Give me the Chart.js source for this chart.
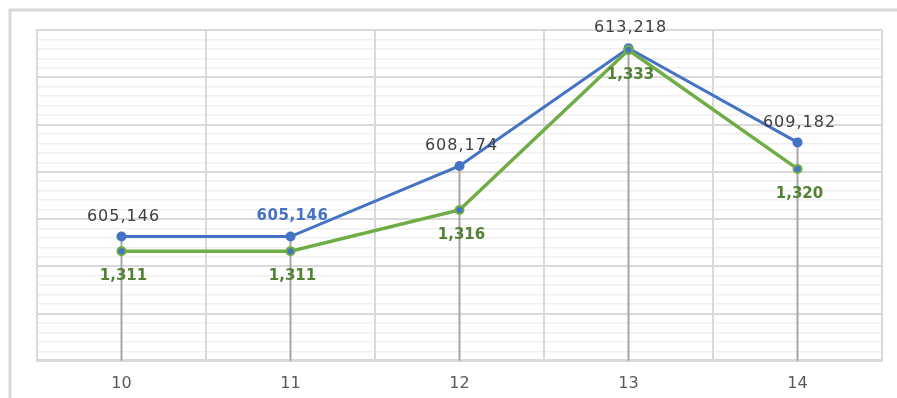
<!DOCTYPE html>
<html>
<head>
<meta charset="utf-8">
<script src="https://cdn.jsdelivr.net/npm/chart.js@4"></script>
<style>
  html, body { margin: 0; padding: 0; background: #fff; }
  #wrap { width: 897px; height: 398px; }
</style>
</head>
<body>
<div id="wrap"><canvas id="myChart" width="897" height="398"></canvas></div>
<script>
// chart data
const categories = ['10', '11', '12', '13', '14'];
const blueValues = [605146, 605146, 608174, 613218, 609182];
const greenValues = [1311, 1311, 1315.5, 1333, 1320];

const fmt = v => Math.round(v).toLocaleString('en-US');

// outer frame of the chart
const framePlugin = {
  id: 'frame',
  beforeDraw(chart) {
    const ctx = chart.ctx;
    ctx.save();
    ctx.strokeStyle = '#d9d9d9';
    ctx.lineWidth = 3;
    ctx.beginPath();
    ctx.moveTo(10, chart.height);
    ctx.lineTo(10, 10);
    ctx.lineTo(chart.width, 10);
    ctx.stroke();
    ctx.restore();
  }
};

// category boundary lines + grey drop lines from each point to the axis
const dropLines = {
  id: 'dropLines',
  beforeDatasetsDraw(chart) {
    const ctx = chart.ctx;
    const area = chart.chartArea;
    const step = (area.right - area.left) / categories.length;
    ctx.save();
    ctx.strokeStyle = '#d9d9d9';
    ctx.lineWidth = 2;
    for (let i = 1; i <= categories.length; i++) {
      const x = area.left + step * i;
      ctx.beginPath();
      ctx.moveTo(x, area.top);
      ctx.lineTo(x, area.bottom);
      ctx.stroke();
    }
    const blue = chart.getDatasetMeta(0).data;
    const green = chart.getDatasetMeta(1).data;
    ctx.strokeStyle = '#a6a6a6';
    blue.forEach((pt, i) => {
      const top = Math.min(pt.y, green[i].y);
      ctx.beginPath();
      ctx.moveTo(pt.x, top);
      ctx.lineTo(pt.x, area.bottom);
      ctx.stroke();
    });
    ctx.restore();
  }
};

// value labels
const valueLabels = {
  id: 'valueLabels',
  afterDatasetsDraw(chart) {
    const ctx = chart.ctx;
    ctx.save();
    ctx.textAlign = 'center';
    ctx.textBaseline = 'middle';
    chart.getDatasetMeta(0).data.forEach((pt, i) => {
      if (i === 1) {
        ctx.font = 'bold 15px "DejaVu Sans"';
        ctx.fillStyle = '#4472c4';
        ctx.letterSpacing = '0.5px';
      } else {
        ctx.font = '16px "DejaVu Sans"';
        ctx.fillStyle = '#404040';
        ctx.letterSpacing = '1px';
      }
      ctx.fillText(fmt(blueValues[i]), pt.x + 2, pt.y - 20);
    });
    ctx.font = 'bold 15px "DejaVu Sans"';
    ctx.fillStyle = '#548235';
    ctx.letterSpacing = '0px';
    chart.getDatasetMeta(1).data.forEach((pt, i) => {
      ctx.fillText(fmt(greenValues[i]), pt.x + 2, pt.y + 25);
    });
    ctx.restore();
  }
};

const ctx = document.getElementById('myChart').getContext('2d');
new Chart(ctx, {
  type: 'line',
  data: {
    labels: categories,
    datasets: [{
      label: 'Blue',
      data: blueValues,
      yAxisID: 'y',
      borderColor: '#4472c4',
      backgroundColor: '#4472c4',
      borderWidth: 3,
      pointRadius: 5,
      pointBorderWidth: 0,
      pointBackgroundColor: '#4472c4',
      tension: 0,
      order: 1
    }, {
      label: 'Green',
      data: greenValues,
      yAxisID: 'y2',
      borderColor: '#70ad47',
      backgroundColor: '#4472c4',
      borderWidth: 3.5,
      pointRadius: 4,
      pointBorderWidth: 2,
      pointBorderColor: '#70ad47',
      pointBackgroundColor: '#4472c4',
      tension: 0,
      order: 0
    }]
  },
  options: {
    responsive: false,
    animation: false,
    layout: { padding: { left: 37, right: 15, top: 30, bottom: 0 } },
    plugins: {
      legend: { display: false },
      tooltip: { enabled: false }
    },
    scales: {
      x: {
        offset: true,
        grid: { display: false },
        border: { color: '#d9d9d9', width: 3 },
        ticks: { color: '#595959', padding: 5, font: { family: 'DejaVu Sans', size: 16 } }
      },
      yg: {
        position: 'left',
        min: 0,
        max: 35,
        ticks: { display: false, stepSize: 1 },
        grid: {
          drawTicks: false,
          color: c => (c.tick.value % 5 === 0 ? '#d9d9d9' : '#f0f0f0'),
          lineWidth: c => (c.tick.value % 5 === 0 ? 2 : 1.5)
        },
        border: { color: '#d9d9d9', width: 2 }
      },
      y: { display: false, min: 599820, max: 614000 },
      y2: { display: false, min: 1299, max: 1335.2 }
    }
  },
  plugins: [framePlugin, dropLines, valueLabels]
});
</script>
</body>
</html>
